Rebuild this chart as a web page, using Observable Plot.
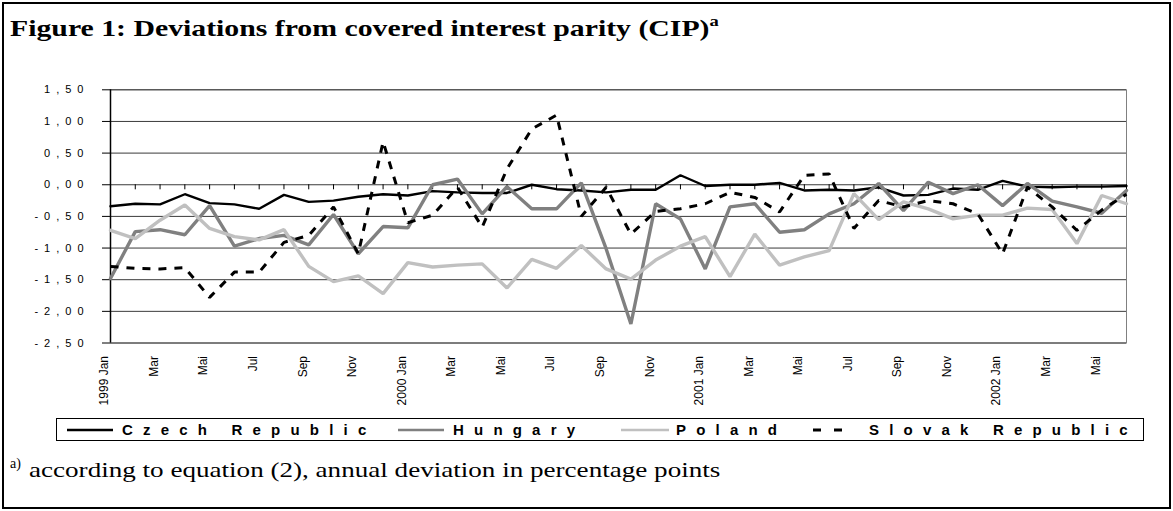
<!DOCTYPE html>
<html><head><meta charset="utf-8">
<script src="https://cdn.jsdelivr.net/npm/d3@7"></script>
<script src="https://cdn.jsdelivr.net/npm/@observablehq/plot@0.6"></script>
<style>
html,body{margin:0;padding:0;background:#fff;}
#wrap{position:relative;width:1173px;height:511px;overflow:hidden;background:#fff;}
#frame{position:absolute;left:2px;top:2px;width:1165px;height:503px;border:2px solid #000;}
#title{position:absolute;left:10px;top:16px;font-family:"Liberation Serif";font-weight:bold;font-size:24px;line-height:24px;white-space:nowrap;transform:scaleX(1.24);transform-origin:0 0;}
#title sup{font-size:15px;vertical-align:0;position:relative;top:-10px;}
#chart{position:absolute;left:0;top:50px;}
#legend{position:absolute;left:56px;top:418px;width:1086px;height:21px;border:1px solid #000;}
.sw{position:absolute;top:424px;}
.lt{position:absolute;top:422px;font-family:"Liberation Sans";font-weight:bold;font-size:15px;line-height:15px;letter-spacing:10.2px;white-space:nowrap;color:#000;}
#noteA{position:absolute;left:10px;top:457px;font-family:"Liberation Serif";font-size:14px;line-height:14px;white-space:nowrap;}
#note{position:absolute;left:29px;top:460px;font-family:"Liberation Serif";font-size:21px;line-height:21px;white-space:nowrap;transform:scaleX(1.29);transform-origin:0 0;}
.cip g[aria-label="y-axis tick label"] text{letter-spacing:6px;}
</style>
</head><body>
<div id="wrap">
  <div id="frame"></div>
  <div id="title">Figure 1: Deviations from covered interest parity (CIP)<sup>a</sup></div>
  <div id="chart"></div>
  <div id="legend"></div>
  <div id="legendItems"></div>
  <div id="noteA">a)</div>
  <div id="note">according to equation (2), annual deviation in percentage points</div>
</div>
<script>
// ---- data ----
const periods = [
  "1999-01","1999-02","1999-03","1999-04","1999-05","1999-06","1999-07","1999-08","1999-09","1999-10","1999-11","1999-12",
  "2000-01","2000-02","2000-03","2000-04","2000-05","2000-06","2000-07","2000-08","2000-09","2000-10","2000-11","2000-12",
  "2001-01","2001-02","2001-03","2001-04","2001-05","2001-06","2001-07","2001-08","2001-09","2001-10","2001-11","2001-12",
  "2002-01","2002-02","2002-03","2002-04","2002-05","2002-06"
];
const tickLabels = ["1999 Jan","Mar","Mai","Jul","Sep","Nov","2000 Jan","Mar","Mai","Jul","Sep","Nov",
  "2001 Jan","Mar","Mai","Jul","Sep","Nov","2002 Jan","Mar","Mai"];
const yTicks = [1.5, 1.0, 0.5, 0, -0.5, -1.0, -1.5, -2.0, -2.5];
const seriesNames = ["Czech Republic", "Hungary", "Poland", "Slovak Republic"];
const czech = [-0.34,-0.30,-0.31,-0.15,-0.29,-0.31,-0.38,-0.16,-0.27,-0.25,-0.19,-0.15,
  -0.17,-0.10,-0.12,-0.13,-0.13,0.00,-0.07,-0.09,-0.12,-0.08,-0.08,0.15,
  -0.02,0.00,0.00,0.03,-0.09,-0.08,-0.09,-0.04,-0.17,-0.16,-0.06,-0.08,
  0.06,-0.03,-0.04,-0.03,-0.03,-0.02];
const hungary = [-1.48,-0.74,-0.71,-0.79,-0.33,-0.97,-0.85,-0.80,-0.95,-0.47,-1.09,-0.66,
  -0.68,0.00,0.09,-0.46,-0.03,-0.38,-0.38,0.03,-1.01,-2.20,-0.30,-0.54,
  -1.33,-0.35,-0.30,-0.75,-0.71,-0.46,-0.30,0.02,-0.41,0.04,-0.14,0.00,
  -0.33,0.02,-0.26,-0.35,-0.45,-0.09];
const poland = [-0.72,-0.85,-0.56,-0.32,-0.69,-0.82,-0.87,-0.71,-1.29,-1.53,-1.44,-1.72,
  -1.23,-1.30,-1.27,-1.25,-1.63,-1.18,-1.32,-0.96,-1.33,-1.49,-1.19,-0.97,
  -0.82,-1.45,-0.78,-1.27,-1.14,-1.04,-0.14,-0.55,-0.27,-0.38,-0.54,-0.48,
  -0.48,-0.37,-0.39,-0.93,-0.17,-0.30];
const slovak = [-1.29,-1.32,-1.33,-1.31,-1.78,-1.38,-1.38,-0.91,-0.80,-0.35,-1.09,0.68,
  -0.60,-0.48,-0.04,-0.67,0.25,0.88,1.10,-0.50,-0.04,-0.78,-0.42,-0.38,
  -0.30,-0.12,-0.20,-0.43,0.15,0.17,-0.69,-0.25,-0.35,-0.25,-0.30,-0.46,
  -1.09,-0.04,-0.35,-0.72,-0.40,-0.15];

// ---- styles ----
const styles = {
  "Czech Republic": {stroke: "#000000", strokeWidth: 2.4},
  "Hungary": {stroke: "#808080", strokeWidth: 3.4},
  "Poland": {stroke: "#c0c0c0", strokeWidth: 3.4},
  "Slovak Republic": {stroke: "#000000", strokeWidth: 3, strokeDasharray: "8,8", strokeLinecap: "butt"}
};
const valuesBySeries = {"Czech Republic": czech, "Hungary": hungary, "Poland": poland, "Slovak Republic": slovak};
const rows = seriesNames.flatMap(s => valuesBySeries[s].map((v, i) => ({series: s, period: periods[i], value: v})));

const fmt = d => d.toFixed(2).replace(".", ",");
const labelTicks = periods.filter((d, i) => i % 2 === 0);

const plot = Plot.plot({
  width: 1173,
  height: 362,
  marginLeft: 110,
  marginRight: 47,
  marginTop: 39.3,
  marginBottom: 69.5,
  className: "cip",
  style: {fontFamily: "Liberation Sans", background: "transparent", color: "#000"},
  x: {type: "point", domain: periods, padding: 0, axis: null},
  y: {domain: [-2.5, 1.5], axis: null},
  marks: [
    Plot.frame({stroke: "#808080"}),
    Plot.ruleY(yTicks, {stroke: "#3a3a3a", strokeWidth: 1}),
    Plot.ruleX(periods.slice(0, 1), {stroke: "#000", strokeWidth: 1.5}),
    Plot.ruleX(periods, {x: d => d, y1: 0, y2: -0.08, stroke: "#000"}),
    Plot.axisY({ticks: yTicks, tickFormat: fmt, tickSize: 8, tickPadding: 13, fontSize: 11, stroke: "#000", label: null}),
    Plot.axisX({ticks: labelTicks, tickFormat: d => tickLabels[periods.indexOf(d) / 2], tickRotate: -90,
      tickSize: 0, tickPadding: 13, fontSize: 12, textAnchor: "end", lineAnchor: "middle", dx: -6, label: null}),
    ...seriesNames.map(s => Plot.line(rows.filter(r => r.series === s), {
      x: "period", y: "value", strokeLinejoin: "miter", ...styles[s]
    }))
  ]
});
document.getElementById("chart").appendChild(plot);

// ---- legend ----
const legendPos = {
  "Czech Republic": {x1: 67, x2: 113, tx: 122},
  "Hungary": {x1: 398, x2: 444, tx: 453},
  "Poland": {x1: 621, x2: 669, tx: 676},
  "Slovak Republic": {x1: 813, x2: 843, tx: 869}
};
const li = document.getElementById("legendItems");
seriesNames.forEach(s => {
  const p = legendPos[s], st = styles[s];
  const w = p.x2 - p.x1;
  const sw = document.createElementNS("http://www.w3.org/2000/svg", "svg");
  sw.setAttribute("class", "sw");
  sw.setAttribute("width", w);
  sw.setAttribute("height", 12);
  sw.style.left = p.x1 + "px";
  const ln = document.createElementNS("http://www.w3.org/2000/svg", "line");
  ln.setAttribute("x1", 0); ln.setAttribute("x2", w);
  ln.setAttribute("y1", 6); ln.setAttribute("y2", 6);
  ln.setAttribute("stroke", st.stroke);
  ln.setAttribute("stroke-width", s === "Slovak Republic" ? 3 : 2.5);
  if (st.strokeDasharray) ln.setAttribute("stroke-dasharray", "8,13");
  sw.appendChild(ln);
  li.appendChild(sw);
  const t = document.createElement("div");
  t.className = "lt";
  t.style.left = p.tx + "px";
  t.textContent = s;
  li.appendChild(t);
});
</script>
</body></html>
